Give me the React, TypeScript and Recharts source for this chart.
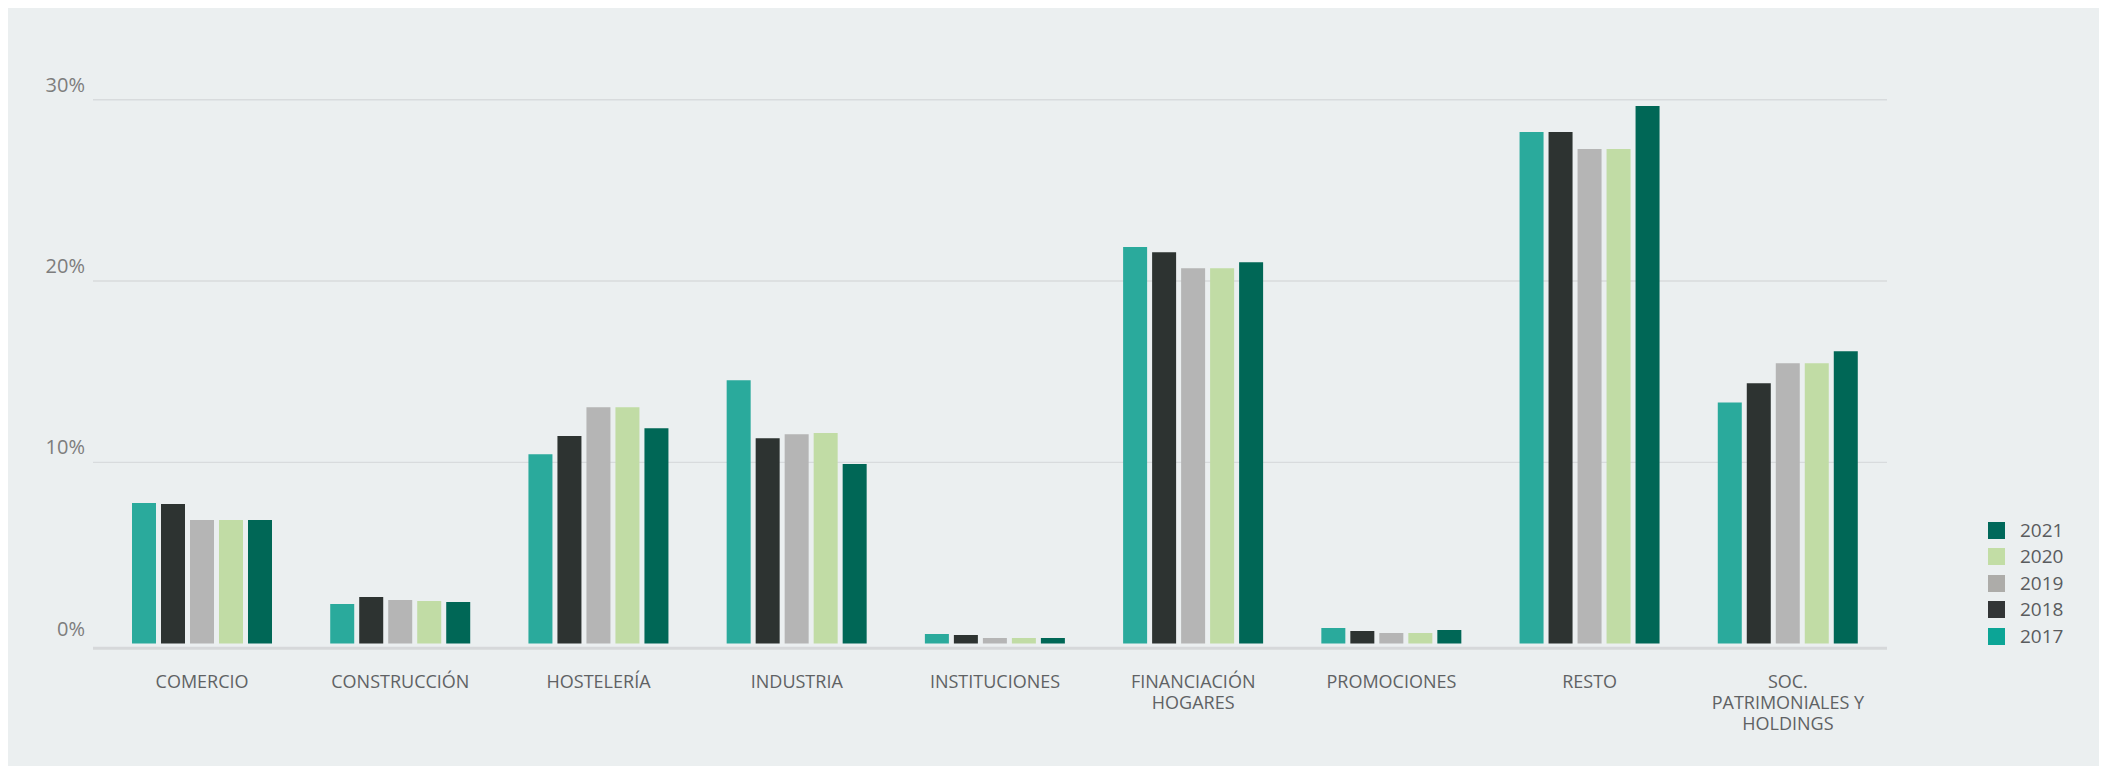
import { BarChart, Bar, XAxis, YAxis, CartesianGrid, Legend } from "recharts";

const categories = [
  "COMERCIO",
  "CONSTRUCCIÓN",
  "HOSTELERÍA",
  "INDUSTRIA",
  "INSTITUCIONES",
  "FINANCIACIÓN\nHOGARES",
  "PROMOCIONES",
  "RESTO",
  "SOC.\nPATRIMONIALES Y\nHOLDINGS",
];

const y2017 = [7.76, 2.18, 10.45, 14.53, 0.53, 21.87, 0.86, 28.22, 13.3];
const y2018 = [7.7, 2.57, 11.45, 11.33, 0.47, 21.58, 0.69, 28.22, 14.36];
const y2019 = [6.82, 2.4, 13.04, 11.55, 0.31, 20.7, 0.58, 27.28, 15.46];
const y2020 = [6.82, 2.35, 13.04, 11.61, 0.31, 20.7, 0.58, 27.28, 15.46];
const y2021 = [6.82, 2.29, 11.88, 9.9, 0.31, 21.03, 0.75, 29.65, 16.12];

const yTicks = [0, 10, 20, 30];
const gridValues = [10, 20, 30];

const SERIES = [
  { key: "y2017", name: "2017", color: "#2aaa9c", legend: "#0ca596" },
  { key: "y2018", name: "2018", color: "#2d3331", legend: "#323536" },
  { key: "y2019", name: "2019", color: "#b5b5b5", legend: "#adaca9" },
  { key: "y2020", name: "2020", color: "#c1dca5", legend: "#c2dda5" },
  { key: "y2021", name: "2021", color: "#006756", legend: "#00685a" },
];

const data = categories.map((c, i) => ({
  cat: c,
  y2017: y2017[i],
  y2018: y2018[i],
  y2019: y2019[i],
  y2020: y2020[i],
  y2021: y2021[i],
}));

const FONT = "'Open Sans', 'DejaVu Sans', sans-serif";

function YTick({ x, y, payload }: any) {
  return (
    <text x={x} y={y - 8} textAnchor="end" fontSize={20} fill="#7d7d7d" fontFamily={FONT}>
      {payload.value}%
    </text>
  );
}

function XTick({ x, y, payload }: any) {
  const lines = String(payload.value).split("\n");
  return (
    <text x={x} y={y + 38} textAnchor="middle" fontSize={18} fill="#5f6264" fontFamily={FONT}>
      {lines.map((l, i) => (
        <tspan key={i} x={x} dy={i === 0 ? 0 : 21}>{l}</tspan>
      ))}
    </text>
  );
}

function LegendBox() {
  const rows = [...SERIES].reverse();
  return (
    <div style={{ fontFamily: FONT }}>
      {rows.map((s) => (
        <div key={s.key} style={{ display: "flex", alignItems: "center", height: 26.5 }}>
          <div style={{ width: 17, height: 17, background: s.legend }} />
          <span style={{ marginLeft: 15, fontSize: 19, color: "#5a5c5e", lineHeight: "17px" }}>{s.name}</span>
        </div>
      ))}
    </div>
  );
}

export default function App() {
  return (
    <div style={{ width: 2092, height: 758, background: "#ebeff0" }}>
      <BarChart
        width={2092}
        height={758}
        data={data}
        margin={{ top: 73.6, right: 213, left: 8, bottom: 17.7 }}
        barGap={5}
        barSize={24}
      >
        <CartesianGrid vertical={false} stroke="#d8dbdd" strokeWidth={1.3} horizontalValues={gridValues} />
        <XAxis
          dataKey="cat"
          interval={0}
          height={100}
          padding={{ left: 10, right: 0 }}
          tickLine={false}
          tickSize={0}
          axisLine={{ stroke: "#d6d8da", strokeWidth: 3 }}
          tick={<XTick />}
        />
        <YAxis
          width={77}
          domain={[-0.26, 31]}
          ticks={yTicks}
          allowDataOverflow
          axisLine={false}
          tickLine={false}
          tickSize={0}
          tickMargin={8}
          tick={<YTick />}
        />
        <Legend
          layout="horizontal"
          verticalAlign="middle"
          align="center"
          wrapperStyle={{ left: 1980, top: 509, width: 100 }}
          content={<LegendBox />}
        />
        {SERIES.map((s) => (
          <Bar key={s.key} dataKey={s.key} name={s.name} fill={s.color} isAnimationActive={false} />
        ))}
      </BarChart>
    </div>
  );
}
